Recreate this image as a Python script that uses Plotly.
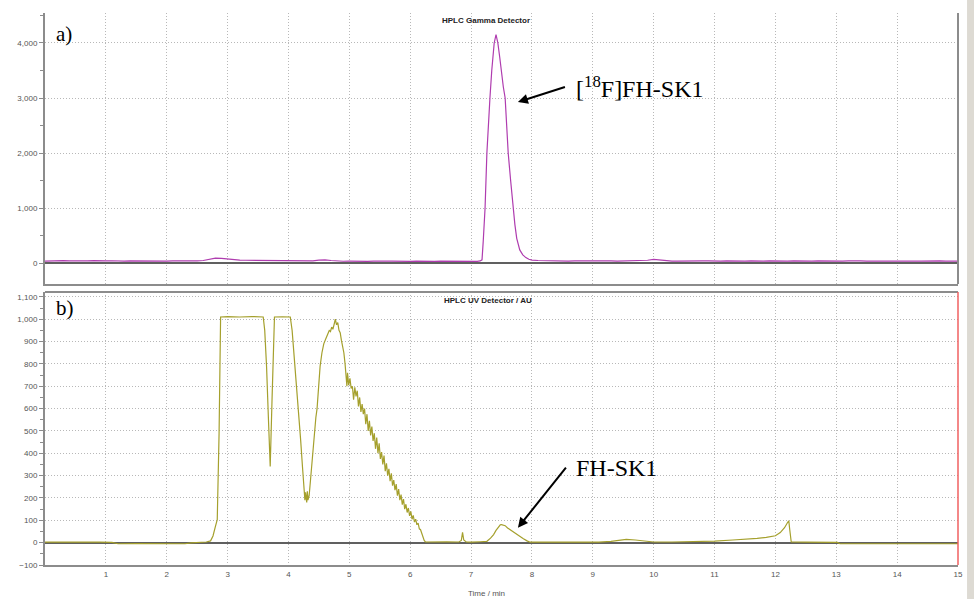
import plotly.graph_objects as go
from plotly.subplots import make_subplots

# ---------------- data ----------------
gamma_t = [0.0, 0.1, 0.2, 0.3, 0.4, 0.5, 0.6, 0.7, 0.8, 0.9, 1.0, 1.1, 1.2, 1.3, 1.4, 1.5,
           1.6, 1.7, 1.8, 1.9, 2.0, 2.1, 2.2, 2.3, 2.4, 2.5, 2.6, 2.7, 2.8, 2.9, 3.0, 3.1,
           3.2, 3.3, 3.4, 3.5, 3.6, 3.7, 3.8, 3.9, 4.0, 4.1, 4.2, 4.3, 4.4, 4.5, 4.6, 4.7,
           4.8, 4.9, 5.0, 5.1, 5.2, 5.3, 5.4, 5.5, 5.6, 5.7, 5.8, 5.9, 6.0, 6.1, 6.2, 6.3,
           6.4, 6.5, 6.6, 6.7, 6.8, 6.9, 7.0, 7.1, 7.15, 7.18, 7.20, 7.23, 7.26, 7.29, 7.31,
           7.34, 7.38, 7.41, 7.44, 7.47, 7.50, 7.53, 7.56, 7.58, 7.61, 7.65, 7.69, 7.72, 7.75,
           7.80, 7.85, 7.90, 7.95, 8.0, 8.1, 8.2, 8.3, 8.4, 8.5, 8.6, 8.7, 8.8, 8.9, 9.0,
           9.1, 9.2, 9.3, 9.4, 9.5, 9.6, 9.7, 9.8, 9.9, 10.0, 10.1, 10.2, 10.3, 10.4, 10.5,
           10.6, 10.7, 10.8, 10.9, 11.0, 11.1, 11.2, 11.3, 11.4, 11.5, 11.6, 11.7, 11.8, 11.9,
           12.0, 12.1, 12.2, 12.3, 12.4, 12.5, 12.6, 12.7, 12.8, 12.9, 13.0, 13.1, 13.2, 13.3,
           13.4, 13.5, 13.6, 13.7, 13.8, 13.9, 14.0, 14.1, 14.2, 14.3, 14.4, 14.5, 14.6, 14.7,
           14.8, 14.9, 15.0]
gamma_cps = [38, 42, 35, 44, 40, 36, 41, 39, 45, 37, 40, 43, 36, 38, 42, 40,
             35, 39, 44, 41, 37, 40, 38, 42, 39, 41, 48, 70, 90, 85, 72, 62,
             56, 52, 50, 48, 47, 45, 46, 43, 44, 42, 41, 40, 42, 55, 60, 48,
             38, 34, 37, 32, 36, 33, 38, 31, 35, 37, 33, 36, 32, 38, 34, 36,
             31, 37, 35, 33, 38, 34, 36, 33, 40, 60, 400, 1000, 2000, 2700, 3000,
             3500, 4000, 4150, 4000, 3750, 3450, 3200, 3000, 2500, 2000, 1500, 1000, 700, 450,
             240, 150, 100, 70, 55, 48, 44, 40, 38, 42, 36, 39, 41, 37, 40,
             35, 38, 41, 36, 39, 42, 37, 40, 52, 68, 55, 42, 38, 36, 40,
             37, 35, 39, 41, 36, 38, 40, 35, 39, 37, 41, 36, 38, 40,
             35, 39, 37, 41, 36, 38, 35, 40, 37, 39, 36, 38, 41, 35,
             39, 37, 40, 36, 42, 38, 35, 39, 41, 37, 36, 40, 38, 42,
             37, 39, 38]

uv_t = [0.0, 0.3, 0.6, 0.9, 1.1, 1.2, 1.5, 1.8, 2.1, 2.3, 2.4, 2.6, 2.65, 2.72, 2.76,
        2.80, 2.83, 2.86, 2.885, 3.0, 3.2, 3.4, 3.585, 3.61, 3.64, 3.67, 3.70, 3.73, 3.75,
        3.77, 3.9, 4.03, 4.06, 4.10, 4.14, 4.17, 4.20, 4.23, 4.25, 4.27, 4.28, 4.29, 4.30,
        4.31, 4.32, 4.34, 4.36, 4.38, 4.40, 4.42, 4.45, 4.47, 4.50, 4.52, 4.55, 4.58, 4.61,
        4.64, 4.67, 4.69, 4.71, 4.73, 4.75, 4.77, 4.79, 4.81, 4.83, 4.85, 4.87, 4.89, 4.91,
        4.93, 4.95, 4.96, 4.97, 4.99, 5.01, 5.03, 5.05, 5.07, 5.09, 5.11, 5.13, 5.15, 5.17,
        5.19, 5.21, 5.23, 5.25, 5.27, 5.29, 5.31, 5.33, 5.35, 5.37, 5.39, 5.41, 5.43, 5.45,
        5.47, 5.49, 5.51, 5.53, 5.55, 5.57, 5.59, 5.61, 5.63, 5.65, 5.67, 5.69, 5.71, 5.73,
        5.75, 5.77, 5.79, 5.81, 5.83, 5.85, 5.87, 5.89, 5.91, 5.93, 5.95, 5.97, 5.99, 6.01,
        6.03, 6.05, 6.07, 6.09, 6.11, 6.13, 6.15, 6.17, 6.19, 6.21, 6.23, 6.25, 6.4, 6.6,
        6.8, 6.84, 6.86, 6.88, 6.92, 7.0, 7.15, 7.26, 7.32, 7.37, 7.41, 7.45, 7.48, 7.50,
        7.53, 7.56, 7.60, 7.64, 7.70, 7.75, 7.80, 7.86, 7.92, 7.97, 8.3, 8.7, 9.1, 9.3,
        9.45, 9.55, 9.7, 9.85, 10.0, 10.3, 10.6, 11.0, 11.3, 11.5, 11.7, 11.85, 12.0, 12.08,
        12.15, 12.20, 12.22, 12.235, 12.26, 12.5, 12.8, 13.02, 13.06, 13.5, 14.0, 14.5, 15.0]
uv_au = [2, 3, 2, 2, 1, -5, -4, -5, -6, -5, -1, 0, 3, 8, 30,
         73, 103, 490, 1010, 1012, 1010, 1012, 1010, 950, 790, 560, 341, 640, 880,
         1010, 1011, 1010, 950, 820, 690, 580, 460, 340, 250, 190, 225, 200, 180,
         230, 190, 210, 280, 340, 400, 460, 560, 600, 720, 790, 850, 890, 910,
         935, 950, 945, 965, 955, 985, 1000, 975, 985, 950, 940, 905, 880, 850,
         800, 745, 700, 760, 705, 735, 690, 700, 640, 695, 655, 680, 610, 650,
         585, 620, 575, 600, 530, 575, 500, 545, 480, 520, 455, 490, 420, 470,
         400, 445, 375, 405, 350, 390, 320, 355, 300, 330, 275, 310, 255, 280,
         235, 262, 210, 240, 190, 215, 170, 195, 150, 172, 135, 155, 120, 140,
         105, 122, 92, 105, 80, 88, 62, 58, 38, 22, 10, 3, 2, 4,
         3, 10, 46, 12, 3, 2, 4, 6, 20, 36, 55, 73, 80, 81,
         78, 76, 66, 58, 46, 36, 26, 18, 8, 2, 2, 3, 2, 6,
         12, 15, 12, 6, 3, 3, 4, 7, 12, 15, 19, 24, 31, 45,
         67, 90, 98, 60, 3, 2, 2, 1, -5, -5, -5, -4, -5]

gamma_title = "HPLC Gamma Detector"
uv_title = "HPLC UV Detector / AU"
x_title = "Time / min"
gamma_ticks = [0, 1000, 2000, 3000, 4000]
uv_ticks = [-100, 0, 100, 200, 300, 400, 500, 600, 700, 800, 900, 1000, 1100]
time_ticks = list(range(1, 16))

# ---------------- figure ----------------
fig = make_subplots(rows=2, cols=1, shared_xaxes=False, vertical_spacing=0.0)

fig.add_trace(go.Scatter(x=gamma_t, y=gamma_cps, mode="lines",
                         line=dict(color="rgb(175,60,175)", width=1.2),
                         showlegend=False, hoverinfo="skip"), row=1, col=1)
fig.add_trace(go.Scatter(x=uv_t, y=uv_au, mode="lines",
                         line=dict(color="rgb(165,160,45)", width=1.2),
                         showlegend=False, hoverinfo="skip"), row=2, col=1)

axis_gray = "#8c8c8c"
grid_col = "#b8b8b8"
grid_dash = "1px,2px"
tick_font = dict(family="Liberation Sans, Arial, sans-serif", size=8, color="#555555")

common_x = dict(range=[0, 15], tickvals=time_ticks, showgrid=True, gridcolor=grid_col,
                griddash=grid_dash, gridwidth=1, zeroline=False, showline=True,
                linecolor=axis_gray, linewidth=2, tickfont=tick_font, ticks="",
                automargin=False)

fig.update_layout(
    xaxis=dict(domain=[0, 1], anchor="y", showticklabels=False, **common_x),
    xaxis2=dict(domain=[0, 1], anchor="y2", showticklabels=True, **common_x),
    yaxis=dict(domain=[0.509, 1.0], anchor="x", range=[-380, 4545], tickvals=gamma_ticks,
               tickformat=",d", showgrid=True, gridcolor=grid_col, griddash=grid_dash,
               zeroline=True, zerolinecolor="#606060", zerolinewidth=1.5,
               showline=True, linecolor=axis_gray, linewidth=2, ticks="outside",
               ticklen=4, tickcolor=axis_gray, tickfont=tick_font, automargin=False,
               minor=dict(dtick=500, tick0=0, ticks="outside", ticklen=3,
                          tickcolor=axis_gray, showgrid=False)),
    yaxis2=dict(domain=[0.0, 0.4946], anchor="x2", range=[-100, 1122], tickvals=uv_ticks,
                tickformat=",d", showgrid=True, gridcolor=grid_col, griddash=grid_dash,
                zeroline=True, zerolinecolor="#606060", zerolinewidth=1.5,
                showline=True, linecolor=axis_gray, linewidth=2, ticks="outside",
                ticklen=4, tickcolor=axis_gray, tickfont=tick_font, automargin=False,
                minor=dict(dtick=50, tick0=0, ticks="outside", ticklen=3,
                           tickcolor=axis_gray, showgrid=False)),
    width=974, height=599,
    margin=dict(l=45, r=16, t=13, b=34, autoexpand=False),
    paper_bgcolor="white", plot_bgcolor="white",
    showlegend=False,
)

# panel borders
shapes = [
    dict(type="line", xref="x domain", yref="y domain", x0=1, x1=1, y0=0, y1=1,
         line=dict(color=axis_gray, width=2)),
    dict(type="line", xref="x2 domain", yref="y2 domain", x0=0, x1=1, y0=1, y1=1,
         line=dict(color=axis_gray, width=2)),
    dict(type="line", xref="x2 domain", yref="y2 domain", x0=1, x1=1, y0=0, y1=1,
         line=dict(color="#f06060", width=1.5)),
    dict(type="rect", xref="paper", yref="paper", x0=1.0099, x1=1.02, y0=-0.07, y1=1.03,
         fillcolor="#dddad3", line=dict(width=0), layer="below"),
]
fig.update_layout(shapes=shapes)

serif = "Liberation Serif, Times New Roman, serif"
title_font = dict(family="Liberation Sans, Arial, sans-serif", size=8, color="#222222")
annotations = [
    dict(text="<b>" + gamma_title + "</b>", xref="x", yref="paper", x=7.25, y=0.987,
         showarrow=False, font=title_font, xanchor="center", yanchor="middle"),
    dict(text="<b>" + uv_title + "</b>", xref="x2", yref="y2", x=7.27, y=1082,
         showarrow=False, font=title_font, xanchor="center", yanchor="middle"),
    dict(text=x_title, xref="x2", yref="paper", x=7.25, y=-0.052, showarrow=False,
         font=dict(family="Liberation Sans, Arial, sans-serif", size=8, color="#555555"),
         xanchor="center", yanchor="middle"),
    dict(text="a)", xref="x", yref="y", x=0.15, y=4170, showarrow=False,
         font=dict(family=serif, size=21, color="black"), xanchor="left", yanchor="middle"),
    dict(text="b)", xref="x2", yref="y2", x=0.15, y=1050, showarrow=False,
         font=dict(family=serif, size=21, color="black"), xanchor="left", yanchor="middle"),
    dict(text="[<sup>18</sup>F]FH-SK1", xref="x", yref="y", x=7.77, y=2927, ax=47, ay=-15,
         showarrow=True, arrowhead=2, arrowsize=1, arrowwidth=2, arrowcolor="black",
         standoff=0, xanchor="left", yanchor="middle", borderpad=10, borderwidth=1,
         bordercolor="rgba(0,0,0,0)",
         font=dict(family=serif, size=24, color="black")),
    dict(text="FH-SK1", xref="x2", yref="y2", x=7.77, y=67, ax=48, ay=-60,
         showarrow=True, arrowhead=2, arrowsize=1, arrowwidth=2, arrowcolor="black",
         standoff=0, xanchor="left", yanchor="middle", borderpad=9, borderwidth=1,
         bordercolor="rgba(0,0,0,0)",
         font=dict(family=serif, size=24, color="black")),
]
fig.update_layout(annotations=annotations)

fig.write_html("out.html", config={"displayModeBar": False},
               post_script="document.body.style.margin='0px';")
